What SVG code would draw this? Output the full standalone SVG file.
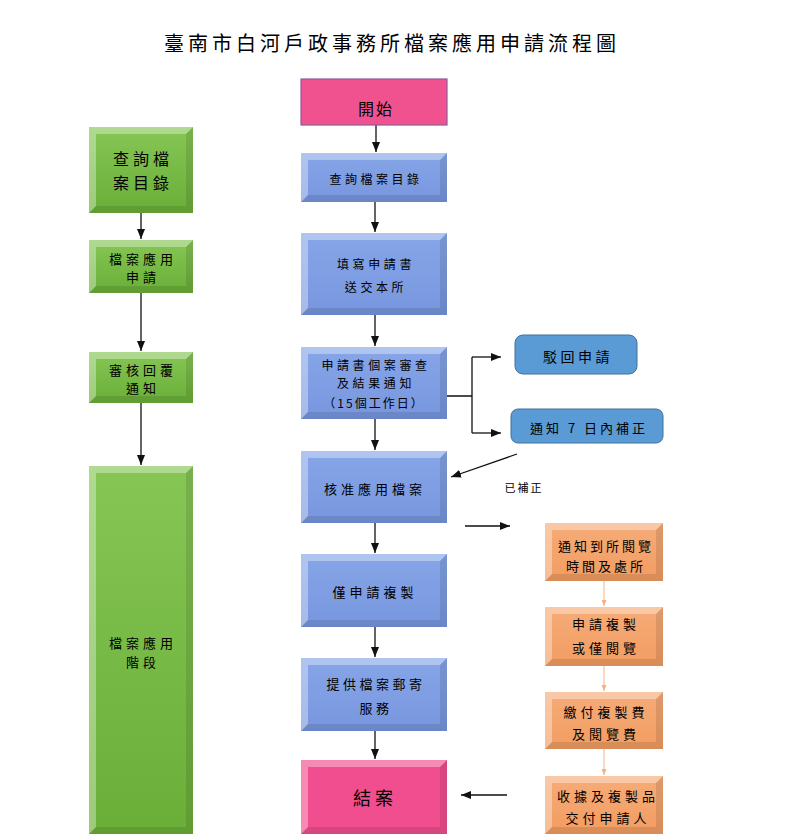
<svg xmlns="http://www.w3.org/2000/svg" width="791" height="840" viewBox="0 0 791 840">
<style>
text{font-family:"Noto Sans CJK TC","Noto Sans CJK SC",sans-serif;fill:#000;text-anchor:middle;dominant-baseline:central}
.hi{fill:#fff;fill-opacity:.35}
.sh{fill:#000;fill-opacity:.1}
.g{fill:url(#gg)}
.b{fill:url(#bg)}
.p{fill:#F04E8E}
.o{fill:url(#og)}
.c{fill:none;stroke:#111;stroke-width:1.3}
.co{fill:none;stroke:#F4B183;stroke-width:1}
</style>
<defs>
<linearGradient id="gg" x1="0" y1="0" x2="0" y2="1"><stop offset="0" stop-color="#86C655"/><stop offset="1" stop-color="#6AAE38"/></linearGradient>
<linearGradient id="bg" x1="0" y1="0" x2="0" y2="1"><stop offset="0" stop-color="#86A6E8"/><stop offset="1" stop-color="#7896DE"/></linearGradient>
<linearGradient id="og" x1="0" y1="0" x2="0" y2="1"><stop offset="0" stop-color="#F6AC78"/><stop offset="1" stop-color="#F29C62"/></linearGradient>
<marker id="ah" markerUnits="userSpaceOnUse" markerWidth="10" markerHeight="8" refX="10" refY="4" orient="auto"><path d="M0,0 L10,4 L0,8 z" fill="#111"/></marker>
<marker id="ao" markerUnits="userSpaceOnUse" markerWidth="6" markerHeight="5" refX="6" refY="2.5" orient="auto"><path d="M0,0 L6,2.5 L0,5 z" fill="#F4B183"/></marker>
</defs>
<rect width="791" height="840" fill="#fff"/>
<text x="392" y="42" font-size="20" letter-spacing="4">臺南市白河戶政事務所檔案應用申請流程圖</text>

<g id="connectors">
<path class="c" marker-end="url(#ah)" d="M141,213 V239"/>
<path class="c" marker-end="url(#ah)" d="M141,293 V351"/>
<path class="c" marker-end="url(#ah)" d="M141,403 V465"/>
<path class="c" marker-end="url(#ah)" d="M376,125 V152"/>
<path class="c" marker-end="url(#ah)" d="M375,202 V232"/>
<path class="c" marker-end="url(#ah)" d="M375,315 V346"/>
<path class="c" marker-end="url(#ah)" d="M375,419 V450"/>
<path class="c" marker-end="url(#ah)" d="M375,523 V553"/>
<path class="c" marker-end="url(#ah)" d="M375,627 V657"/>
<path class="c" marker-end="url(#ah)" d="M375,731 V759"/>
<path class="c" d="M447,396 H472 M472,357 V433"/>
<path class="c" marker-end="url(#ah)" d="M472,357 H501"/>
<path class="c" marker-end="url(#ah)" d="M472,433 H501"/>
<path class="c" marker-end="url(#ah)" d="M517,454 L451,477"/>
<path class="c" marker-end="url(#ah)" d="M465,526 H510"/>
<path class="co" marker-end="url(#ao)" d="M604,581 V606"/>
<path class="co" marker-end="url(#ao)" d="M604,666 V691"/>
<path class="co" marker-end="url(#ao)" d="M604,749 V775"/>
<path class="c" marker-end="url(#ah)" d="M507,795 H461"/>
</g>

<g id="g1">
<rect class="g" x="89" y="127" width="104" height="86"/>
<polygon class="hi" points="89,127 193,127 186,134 96,134 96,206 89,213"/>
<polygon class="sh" points="193,127 193,213 89,213 96,206 186,206 186,134"/>
<text x="143" y="158" font-size="16" letter-spacing="4">查詢檔</text>
<text x="143" y="182" font-size="16" letter-spacing="4">案目錄</text>
</g>
<g id="g2">
<rect class="g" x="89" y="240" width="104" height="53"/>
<polygon class="hi" points="89,240 193,240 186,247 96,247 96,286 89,293"/>
<polygon class="sh" points="193,240 193,293 89,293 96,286 186,286 186,247"/>
<text x="143" y="258" font-size="13" letter-spacing="4">檔案應用</text>
<text x="143" y="276" font-size="13" letter-spacing="4">申請</text>
</g>
<g id="g3">
<rect class="g" x="89" y="352" width="104" height="51"/>
<polygon class="hi" points="89,352 193,352 186,359 96,359 96,396 89,403"/>
<polygon class="sh" points="193,352 193,403 89,403 96,396 186,396 186,359"/>
<text x="143" y="369" font-size="13" letter-spacing="4">審核回覆</text>
<text x="143" y="387" font-size="13" letter-spacing="4">通知</text>
</g>
<g id="g4">
<rect class="g" x="89" y="466" width="104" height="368"/>
<polygon class="hi" points="89,466 193,466 186,473 96,473 96,827 89,834"/>
<polygon class="sh" points="193,466 193,834 89,834 96,827 186,827 186,473"/>
<text x="143" y="642" font-size="13" letter-spacing="4">檔案應用</text>
<text x="143" y="661" font-size="13" letter-spacing="4">階段</text>
</g>

<g id="m0">
<rect x="301" y="79" width="146" height="46" fill="#F0528F" stroke="#8E5AA0" stroke-width="1.2"/>
<text x="376" y="108" font-size="16" letter-spacing="2">開始</text>
</g>
<g id="m1">
<rect class="b" x="301" y="153" width="146" height="49"/>
<polygon class="hi" points="301,153 447,153 440,160 308,160 308,195 301,202"/>
<polygon class="sh" points="447,153 447,202 301,202 308,195 440,195 440,160"/>
<text x="376" y="178" font-size="12" letter-spacing="3.5">查詢檔案目錄</text>
</g>
<g id="m2">
<rect class="b" x="301" y="233" width="146" height="82"/>
<polygon class="hi" points="301,233 447,233 440,240 308,240 308,308 301,315"/>
<polygon class="sh" points="447,233 447,315 301,315 308,308 440,308 440,240"/>
<text x="376" y="263" font-size="12" letter-spacing="3.6">填寫申請書</text>
<text x="376" y="286" font-size="12" letter-spacing="3.6">送交本所</text>
</g>
<g id="m3">
<rect class="b" x="301" y="347" width="146" height="72"/>
<polygon class="hi" points="301,347 447,347 440,354 308,354 308,412 301,419"/>
<polygon class="sh" points="447,347 447,419 301,419 308,412 440,412 440,354"/>
<text x="376" y="364" font-size="12" letter-spacing="3.6">申請書個案審查</text>
<text x="376" y="382" font-size="12" letter-spacing="3.6">及結果通知</text>
<text x="374" y="402" font-size="12" letter-spacing="2">（15個工作日）</text>
</g>
<g id="m4">
<rect class="b" x="301" y="451" width="146" height="72"/>
<polygon class="hi" points="301,451 447,451 440,458 308,458 308,516 301,523"/>
<polygon class="sh" points="447,451 447,523 301,523 308,516 440,516 440,458"/>
<text x="375" y="488" font-size="13" letter-spacing="4">核准應用檔案</text>
</g>
<g id="m5">
<rect class="b" x="301" y="554" width="146" height="73"/>
<polygon class="hi" points="301,554 447,554 440,561 308,561 308,620 301,627"/>
<polygon class="sh" points="447,554 447,627 301,627 308,620 440,620 440,561"/>
<text x="375" y="591" font-size="13" letter-spacing="4">僅申請複製</text>
</g>
<g id="m6">
<rect class="b" x="301" y="658" width="146" height="73"/>
<polygon class="hi" points="301,658 447,658 440,665 308,665 308,724 301,731"/>
<polygon class="sh" points="447,658 447,731 301,731 308,724 440,724 440,665"/>
<text x="376" y="683" font-size="13" letter-spacing="3.5">提供檔案郵寄</text>
<text x="376" y="707" font-size="13" letter-spacing="3.5">服務</text>
</g>
<g id="m7">
<rect class="p" x="301" y="760" width="146" height="74"/>
<polygon class="hi" points="301,760 447,760 440,767 308,767 308,827 301,834"/>
<polygon class="sh" points="447,760 447,834 301,834 308,827 440,827 440,767"/>
<text x="375" y="797" font-size="18" letter-spacing="4">結案</text>
</g>

<g id="r1">
<rect x="515" y="335" width="122" height="39" rx="8" fill="#5B9BD5" stroke="#41719C" stroke-width="1"/>
<text x="578" y="356" font-size="14" letter-spacing="3.5">駁回申請</text>
</g>
<g id="r2">
<rect x="511" y="409" width="152" height="34" rx="7" fill="#5B9BD5" stroke="#41719C" stroke-width="1"/>
<text x="589" y="427" font-size="13" letter-spacing="3">通知 7 日內補正</text>
</g>
<g id="lbl">
<text x="524" y="487" font-size="11" letter-spacing="2">已補正</text>
</g>

<g id="o1">
<rect class="o" x="545" y="523" width="118" height="58"/>
<polygon class="hi" points="545,523 663,523 656,530 552,530 552,574 545,581"/>
<polygon class="sh" points="663,523 663,581 545,581 552,574 656,574 656,530"/>
<text x="606" y="545" font-size="13" letter-spacing="3">通知到所閱覽</text>
<text x="606" y="565" font-size="13" letter-spacing="3">時間及處所</text>
</g>
<g id="o2">
<rect class="o" x="545" y="607" width="118" height="59"/>
<polygon class="hi" points="545,607 663,607 656,614 552,614 552,659 545,666"/>
<polygon class="sh" points="663,607 663,666 545,666 552,659 656,659 656,614"/>
<text x="606" y="623" font-size="13" letter-spacing="4">申請複製</text>
<text x="606" y="647" font-size="13" letter-spacing="4">或僅閱覽</text>
</g>
<g id="o3">
<rect class="o" x="545" y="692" width="118" height="57"/>
<polygon class="hi" points="545,692 663,692 656,699 552,699 552,742 545,749"/>
<polygon class="sh" points="663,692 663,749 545,749 552,742 656,742 656,699"/>
<text x="606" y="711" font-size="13" letter-spacing="4">繳付複製費</text>
<text x="606" y="733" font-size="13" letter-spacing="4">及閱覽費</text>
</g>
<g id="o4">
<rect class="o" x="545" y="776" width="118" height="58"/>
<polygon class="hi" points="545,776 663,776 656,783 552,783 552,827 545,834"/>
<polygon class="sh" points="663,776 663,834 545,834 552,827 656,827 656,783"/>
<text x="608" y="795" font-size="13" letter-spacing="4">收據及複製品</text>
<text x="608" y="817" font-size="13" letter-spacing="4">交付申請人</text>
</g>
</svg>
